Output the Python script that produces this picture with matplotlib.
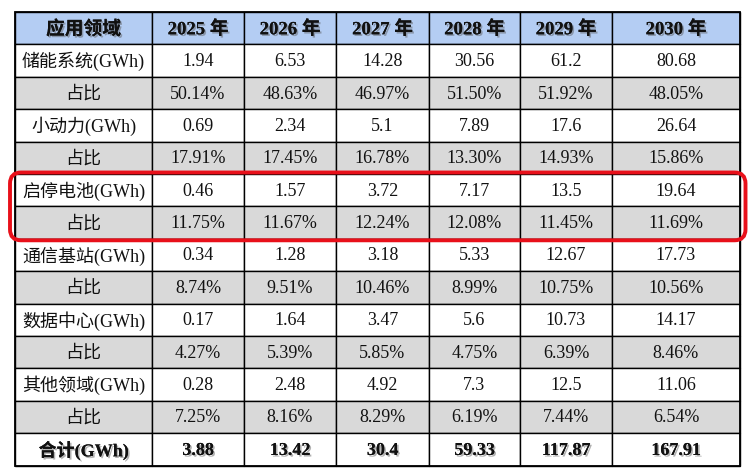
import matplotlib
matplotlib.use("Agg")
import matplotlib.pyplot as plt
from matplotlib.patches import Rectangle, FancyBboxPatch
import matplotlib.patheffects as pe

# ---- data ----
header = ["应用领域", "2025 年", "2026 年", "2027 年", "2028 年", "2029 年", "2030 年"]
row_labels = ["储能系统(GWh)", "占比", "小动力(GWh)", "占比", "启停电池(GWh)", "占比",
              "通信基站(GWh)", "占比", "数据中心(GWh)", "占比", "其他领域(GWh)", "占比",
              "合计(GWh)"]
storage = ["1.94", "6.53", "14.28", "30.56", "61.2", "80.68"]
storage_pct = ["50.14%", "48.63%", "46.97%", "51.50%", "51.92%", "48.05%"]
small_power = ["0.69", "2.34", "5.1", "7.89", "17.6", "26.64"]
small_power_pct = ["17.91%", "17.45%", "16.78%", "13.30%", "14.93%", "15.86%"]
start_stop = ["0.46", "1.57", "3.72", "7.17", "13.5", "19.64"]
start_stop_pct = ["11.75%", "11.67%", "12.24%", "12.08%", "11.45%", "11.69%"]
telecom = ["0.34", "1.28", "3.18", "5.33", "12.67", "17.73"]
telecom_pct = ["8.74%", "9.51%", "10.46%", "8.99%", "10.75%", "10.56%"]
datacenter = ["0.17", "1.64", "3.47", "5.6", "10.73", "14.17"]
datacenter_pct = ["4.27%", "5.39%", "5.85%", "4.75%", "6.39%", "8.46%"]
other = ["0.28", "2.48", "4.92", "7.3", "12.5", "11.06"]
other_pct = ["7.25%", "8.16%", "8.29%", "6.19%", "7.44%", "6.54%"]
total = ["3.88", "13.42", "30.4", "59.33", "117.87", "167.91"]

rows = [storage, storage_pct, small_power, small_power_pct, start_stop, start_stop_pct,
        telecom, telecom_pct, datacenter, datacenter_pct, other, other_pct, total]

# ---- layout (pixels) ----
W, H = 753, 474
col_edges = [15, 152, 244, 336, 429, 520, 612, 740]
top = 12
row_h = 32.4
n_rows = len(rows) + 1

fam = ["Liberation Serif", "Noto Sans CJK SC"]
fs = 13

fig = plt.figure(figsize=(W / 100, H / 100), dpi=100)
ax = fig.add_axes([0, 0, 1, 1])
ax.set_xlim(0, W)
ax.set_ylim(H, 0)
ax.axis("off")

header_color = "#b4cdf3"
gray = "#d9d9d9"
shadow = [pe.withSimplePatchShadow(offset=(1.2, -1.2), shadow_rgbFace="#555555", alpha=0.45),
          pe.Normal()]

def cell(r, c, fill):
    x0, x1 = col_edges[c], col_edges[c + 1]
    y0 = top + r * row_h
    ax.add_patch(Rectangle((x0, y0), x1 - x0, row_h, facecolor=fill,
                           edgecolor="black", linewidth=1.0))
    return (x0 + x1) / 2, y0 + row_h / 2

# header
for c, txt in enumerate(header):
    cx, cy = cell(0, c, header_color)
    ax.text(cx, cy + 1, txt, ha="center", va="center", fontsize=fs + 0.5,
            fontweight="bold", family=fam, color="#111111", path_effects=shadow)

# body
for i, (lab, vals) in enumerate(zip(row_labels, rows)):
    r = i + 1
    is_pct = lab == "占比"
    is_total = i == len(rows) - 1
    fill = gray if is_pct else "white"
    weight = "bold" if is_total else "normal"
    pe_ = shadow if is_total else None
    cx, cy = cell(r, 0, fill)
    ax.text(cx, cy + 1, lab, ha="center", va="center", fontsize=fs, family=fam,
            fontweight=weight, color="#111111", path_effects=pe_)
    for c, v in enumerate(vals):
        cx, cy = cell(r, c + 1, fill)
        ax.text(cx, cy + 1, v, ha="center", va="center", fontsize=fs, family=fam,
                fontweight=weight, color="#111111", path_effects=pe_)

# outer border
ax.add_patch(Rectangle((col_edges[0], top), col_edges[-1] - col_edges[0], n_rows * row_h,
                       fill=False, edgecolor="black", linewidth=1.3))

# red highlight around 启停电池 rows
ry0 = top + 5 * row_h - 1.5
ry1 = top + 7 * row_h + 1.5
ax.add_patch(FancyBboxPatch((10, ry0), 745.5 - 10, ry1 - ry0,
                            boxstyle="round,pad=0,rounding_size=11",
                            fill=False, edgecolor="#e8101a", linewidth=2.8))

fig.savefig("out.png", dpi=100)
